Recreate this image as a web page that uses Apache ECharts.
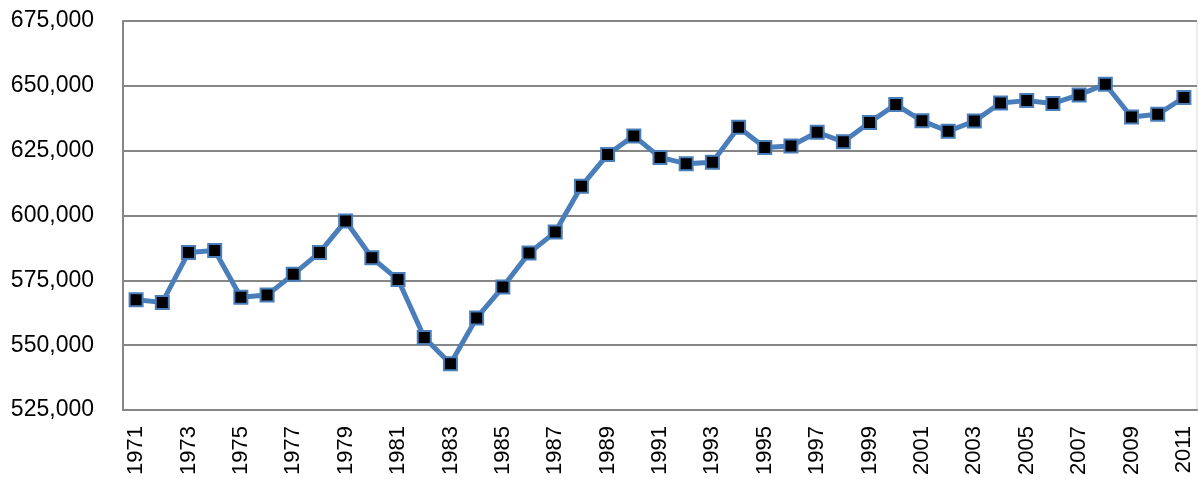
<!DOCTYPE html>
<html>
<head>
<meta charset="utf-8">
<script src="https://cdn.jsdelivr.net/npm/echarts@6/dist/echarts.min.js"></script>
<style>
html,body{margin:0;padding:0;background:#fff;}
#chart{width:1198px;height:479px;}
</style>
</head>
<body>
<div id="chart"></div>
<script>
const years = ["1971","1972","1973","1974","1975","1976","1977","1978","1979","1980",
"1981","1982","1983","1984","1985","1986","1987","1988","1989","1990",
"1991","1992","1993","1994","1995","1996","1997","1998","1999","2000",
"2001","2002","2003","2004","2005","2006","2007","2008","2009","2010","2011"];
const values = [567500,566500,585700,586500,568500,569300,577300,585700,597900,583700,
575300,553000,542800,560500,572400,585500,593600,611300,623500,630700,
622400,620000,620500,634000,626200,626800,632100,628400,635900,642800,
636500,632500,636400,643400,644300,643200,646500,650600,638000,639000,645500];
const yMin = 525000, yMax = 675000, yStep = 25000;

const chart = echarts.init(document.getElementById('chart'));
chart.setOption({
  animation:false,
  backgroundColor:'#fff',
  grid:{left:123,right:1,top:21,bottom:69,containLabel:false,
    show:true,borderColor:'#d9d9d9',borderWidth:1},
  xAxis:{
    type:'category',data:years,boundaryGap:true,
    axisLine:{lineStyle:{color:'#868686',width:2}},
    axisTick:{show:false},
    axisLabel:{rotate:90,interval:1,margin:16,color:'#000',
      fontFamily:'Liberation Sans, Arial',fontSize:22}
  },
  yAxis:{
    type:'value',min:yMin,max:yMax,interval:yStep,
    axisLine:{show:true,lineStyle:{color:'#868686',width:2}},
    axisTick:{show:false},
    splitLine:{lineStyle:{color:'#868686',width:2}},
    axisLabel:{margin:29,color:'#000',fontFamily:'Liberation Sans, Arial',fontSize:23,
      formatter:v=>v.toLocaleString('en-US')}
  },
  series:[{
    type:'line',data:values,
    lineStyle:{color:'#4a7ebb',width:5},
    symbol:'rect',symbolSize:13,
    itemStyle:{color:'#000',borderColor:'#4a7ebb',borderWidth:2}
  }]
});
</script>
</body>
</html>
